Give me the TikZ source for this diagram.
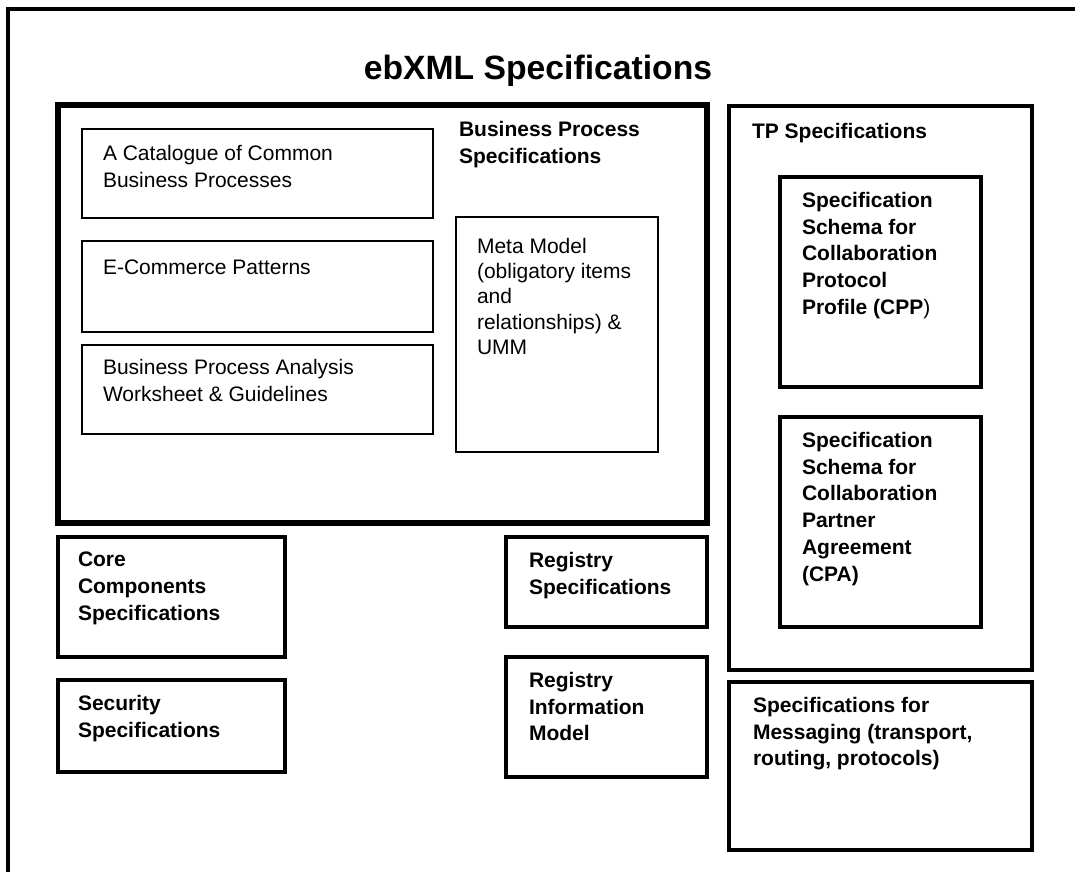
\documentclass[tikz,border=0pt]{standalone}
\usepackage{fontspec}
\setmainfont{Liberation Sans}
\begin{document}
\begin{tikzpicture}[x=1pt,y=-1pt,
  box/.style={draw=black,rectangle,inner sep=0pt,outer sep=0pt,anchor=north west},
  thinbox/.style={box,line width=2pt},
  midbox/.style={box,line width=4pt},
  thickbox/.style={box,line width=6pt},
  txt/.style={anchor=north west,inner sep=0pt,outer sep=0pt,align=left,font=\fontsize{21}{26.8}\selectfont},
  btxt/.style={txt,font=\fontsize{21}{26.8}\selectfont\bfseries}]
\useasboundingbox (0,0) rectangle (1075,872);
\fill[white] (0,0) rectangle (1075,872);
% outer frame (cropped)
\draw[line width=4pt] (8,872) -- (8,9) -- (1075,9);
% title
\node[anchor=base,inner sep=0pt,font=\fontsize{33.7}{40}\selectfont\bfseries] (title) at (538,80) {ebXML Specifications};
% business process specifications
\node[thickbox,minimum width=649pt,minimum height=417.5pt] (bps) at (58,105.5) {};
\node[btxt] (bpsT) at (459,121) {Business Process\\Specifications};
\node[thinbox,minimum width=351pt,minimum height=89.5pt] (cat) at (82,128.5) {};
\node[txt] (catT) at (103,145) {A Catalogue of Common\\Business Processes};
\node[thinbox,minimum width=351pt,minimum height=91pt] (ecom) at (82,241) {};
\node[txt] (ecomT) at (103,260) {E-Commerce Patterns};
\node[thinbox,minimum width=351pt,minimum height=89pt] (bpa) at (82,345) {};
\node[txt] (bpaT) at (103,359) {Business Process Analysis\\Worksheet \& Guidelines};
\node[thinbox,minimum width=202pt,minimum height=235pt] (meta) at (456,217) {};
\node[txt,font=\fontsize{21}{25.3}\selectfont] (metaT) at (477,238) {Meta Model\\(obligatory items\\and\\relationships) \&\\UMM};
% TP specifications
\node[midbox,minimum width=303pt,minimum height=564pt] (tp) at (729,106) {};
\node[btxt] (tpT) at (752,123) {TP Specifications};
\node[midbox,minimum width=201pt,minimum height=210pt] (cpp) at (780,177) {};
\node[btxt] (cppT) at (802,192) {Specification\\Schema for\\Collaboration\\Protocol\\Profile (CPP\textmd{)}};
\node[midbox,minimum width=201pt,minimum height=210pt] (cpa) at (780,417) {};
\node[btxt] (cpaT) at (802,432) {Specification\\Schema for\\Collaboration\\Partner\\Agreement\\(CPA)};
% messaging
\node[midbox,minimum width=303pt,minimum height=168pt] (msg) at (729,682) {};
\node[btxt] (msgT) at (753,697) {Specifications for\\Messaging (transport,\\routing, protocols)};
% lower left
\node[midbox,minimum width=227pt,minimum height=120pt] (core) at (58,537) {};
\node[btxt] (coreT) at (78,552) {Core\\Components\\Specifications};
\node[midbox,minimum width=227pt,minimum height=92pt] (sec) at (58,680) {};
\node[btxt] (secT) at (78,695) {Security\\Specifications};
% registry
\node[midbox,minimum width=201pt,minimum height=90pt] (reg) at (506,537) {};
\node[btxt] (regT) at (529,552) {Registry\\Specifications};
\node[midbox,minimum width=201pt,minimum height=120pt] (rim) at (506,657) {};
\node[btxt] (rimT) at (529,672) {Registry\\Information\\Model};
\end{tikzpicture}
\end{document}
